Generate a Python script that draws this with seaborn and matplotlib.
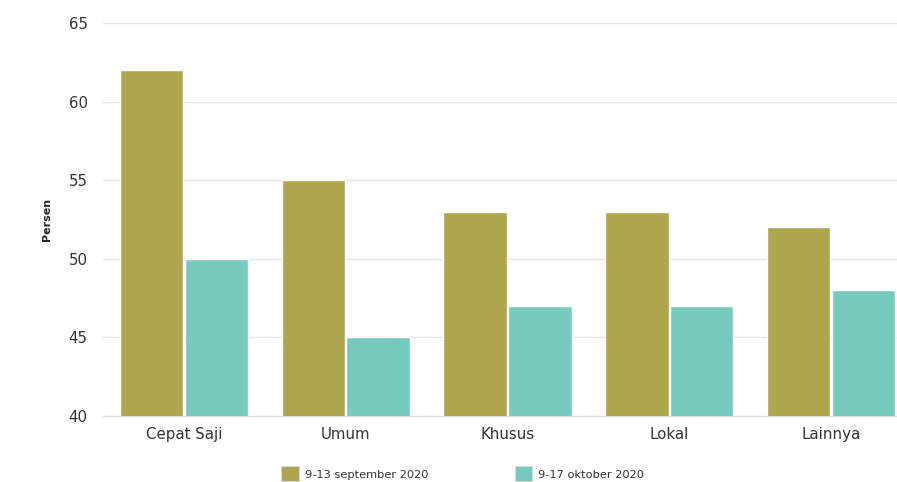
import matplotlib
matplotlib.use("Agg")
import matplotlib.pyplot as plt
from matplotlib.patches import Patch
import seaborn as sns
import pandas as pd

categories = ["Cepat Saji", "Umum", "Khusus", "Lokal", "Lainnya"]
periods = ["9-13 september 2020", "9-17 oktober 2020"]
sept_values = [62, 55, 53, 53, 52]
okt_values = [50, 45, 47, 47, 48]
colors = ["#ADA64E", "#76CBBE"]

df = pd.DataFrame({
    "kategori": categories * 2,
    "periode": [periods[0]] * 5 + [periods[1]] * 5,
    "persen": sept_values + okt_values,
})

sns.set_style("white")
plt.rcParams['font.family'] = ['DejaVu Sans']

fig = plt.figure(figsize=(8.97, 4.82), dpi=100)
ax = fig.add_axes([103 / 897, 66 / 482, 809 / 897, 393 / 482])

sns.barplot(data=df, x="kategori", y="persen", hue="periode",
            palette=colors, width=0.8, gap=0.02, edgecolor="white",
            linewidth=1, saturation=1, legend=False, ax=ax)

ax.set_ylim(40, 65)
ax.set_yticks([40, 45, 50, 55, 60, 65])
ax.grid(True, axis='y', color='#e6e6e6', linewidth=1)
ax.set_axisbelow(True)
for side in ["left", "right", "top"]:
    ax.spines[side].set_visible(False)
ax.spines["bottom"].set_color('#d8d8d8')
ax.tick_params(axis='both', length=0, labelsize=10.8, colors='#333333')
ax.tick_params(axis='y', pad=11)
ax.tick_params(axis='x', pad=8)
ax.set_xlabel("")
ax.set_ylabel("Persen", fontsize=8, fontweight='bold', labelpad=12)

handles = [Patch(facecolor=c, edgecolor='#dddddd', linewidth=0.5) for c in colors]
fig.legend(handles, periods, loc='lower left', bbox_to_anchor=(271 / 897, -0.02),
           ncol=2, frameon=False, fontsize=8.2, handlelength=1.55,
           handleheight=1.65, handletextpad=0.5, columnspacing=7.6,
           labelcolor='#333333')

fig.savefig("out.png", dpi=100)
